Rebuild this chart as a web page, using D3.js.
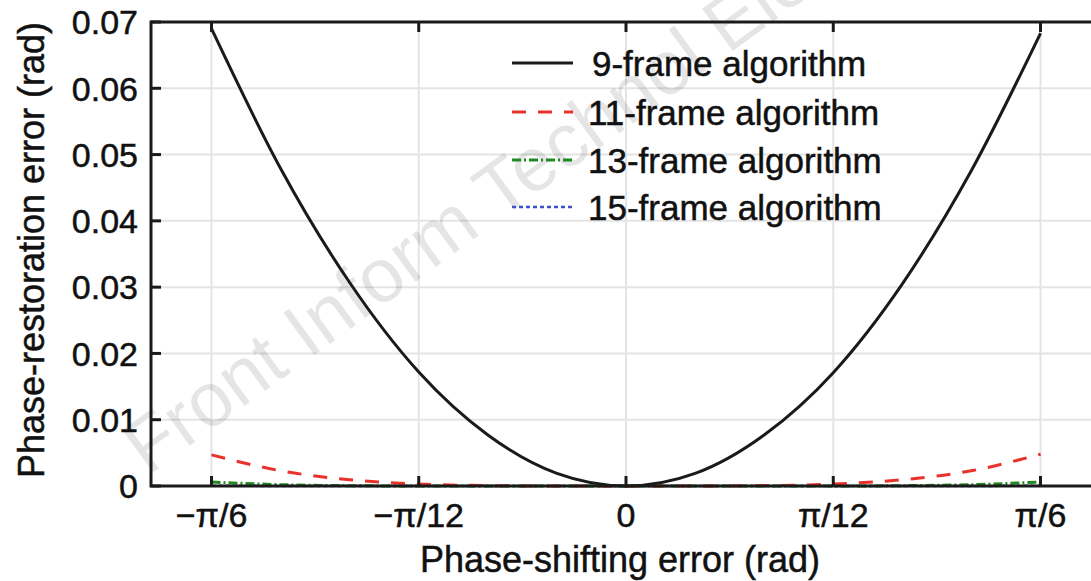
<!DOCTYPE html>
<html>
<head>
<meta charset="utf-8">
<script src="https://cdn.jsdelivr.net/npm/d3@7"></script>
<style>
  body { margin: 0; background: #fff; }
  text { font-family: "Liberation Sans", Arial, sans-serif; fill: #111; }
  .lbl { stroke: #111; stroke-width: 0.5px; }
</style>
</head>
<body>
<script>
var width = 1091,
  height = 581;

// phase-shifting error (rad), sampled every pi/36
var xs = [-0.5236, -0.4363, -0.3491, -0.2618, -0.1745, -0.0873, 0,
  0.0873, 0.1745, 0.2618, 0.3491, 0.4363, 0.5236];

var frame9 = [0.069, 0.0479, 0.0307, 0.0172, 0.0077, 0.0019, 0,
  0.0019, 0.0077, 0.0171, 0.0305, 0.0476, 0.0683];
var frame11 = [0.0047, 0.0023, 0.00095, 0.0003, 0.00006, 0, 0,
  0, 0.00006, 0.0003, 0.00095, 0.0023, 0.0048];
var frame13 = [0.0006, 0.0002, 0.00005, 0, 0, 0, 0,
  0, 0, 0, 0.00005, 0.0002, 0.0006];
var frame15 = [0.00004, 0.00001, 0, 0, 0, 0, 0,
  0, 0, 0, 0, 0.00001, 0.00004];

var seriesNames = ["9-frame algorithm", "11-frame algorithm", "13-frame algorithm", "15-frame algorithm"];

var xTicks = [-Math.PI / 6, -Math.PI / 12, 0, Math.PI / 12, Math.PI / 6];
var xTickLabels = ["\u2212\u03c0/6", "\u2212\u03c0/12", "0", "\u03c0/12", "\u03c0/6"];
var yTicks = [0, 0.01, 0.02, 0.03, 0.04, 0.05, 0.06, 0.07];

var styles = [
  { color: "#1a1a1a", dash: null, w: 3 },
  { color: "#e8322b", dash: "14,12", w: 3 },
  { color: "#1f8a1f", dash: "9,3,2,3", w: 3 },
  { color: "#3a52c8", dash: "4,3", w: 2.5 }
];

var pL = 151, pR = 1101, pT = 22, pB = 486;

var x = d3.scaleLinear().domain([-0.6, 0.6]).range([pL, pR]);
var y = d3.scaleLinear().domain([0, 0.07]).range([pB, pT]);

var svg = d3.select("body").append("svg")
  .attr("width", width)
  .attr("height", height);

// grid
svg.append("g").selectAll("line").data(xTicks).join("line")
  .attr("x1", d => x(d)).attr("x2", d => x(d))
  .attr("y1", pT).attr("y2", pB)
  .attr("stroke", "#e4e4e4").attr("stroke-width", 2);
svg.append("g").selectAll("line").data(yTicks.slice(1, -1)).join("line")
  .attr("x1", pL).attr("x2", pR)
  .attr("y1", d => y(d)).attr("y2", d => y(d))
  .attr("stroke", "#e4e4e4").attr("stroke-width", 2);

// journal watermark (runs off the top edge, as in the original)
svg.append("text")
  .attr("transform", "translate(148,476) rotate(-36)")
  .style("font-size", "76px")
  .style("fill", "#000")
  .style("fill-opacity", 0.1)
  .text("Front Inform Technol Electron Eng");

// curves
var all = [frame9, frame11, frame13, frame15];
var line = d3.line()
  .x((d, i) => x(xs[i]))
  .y(d => y(d))
  .curve(d3.curveMonotoneX);

// small ones first so black sits on top
[3, 2, 1, 0].forEach(function(k) {
  svg.append("path")
    .datum(all[k])
    .attr("d", line)
    .attr("fill", "none")
    .attr("stroke", styles[k].color)
    .attr("stroke-width", styles[k].w)
    .attr("stroke-dasharray", styles[k].dash);
});

// frame
svg.append("rect")
  .attr("x", pL).attr("y", pT)
  .attr("width", pR - pL).attr("height", pB - pT)
  .attr("fill", "none").attr("stroke", "#1a1a1a").attr("stroke-width", 3);

// inward ticks
var tl = 10;
var tk = svg.append("g").attr("stroke", "#1a1a1a").attr("stroke-width", 3);
xTicks.forEach(function(t) {
  tk.append("line").attr("x1", x(t)).attr("x2", x(t)).attr("y1", pB).attr("y2", pB - tl);
  tk.append("line").attr("x1", x(t)).attr("x2", x(t)).attr("y1", pT).attr("y2", pT + tl);
});
yTicks.forEach(function(t) {
  tk.append("line").attr("y1", y(t)).attr("y2", y(t)).attr("x1", pL).attr("x2", pL + tl);
  tk.append("line").attr("y1", y(t)).attr("y2", y(t)).attr("x1", pR).attr("x2", pR - tl);
});

// tick labels
svg.append("g").selectAll("text").data(yTicks).join("text")
  .attr("class", "lbl")
  .attr("x", 138).attr("y", d => y(d))
  .attr("dy", "0.36em")
  .attr("text-anchor", "end")
  .style("font-size", "34px")
  .text(d => d === 0 ? "0" : d3.format(".2f")(d));

svg.append("g").selectAll("text").data(xTicks).join("text")
  .attr("class", "lbl")
  .attr("x", d => x(d)).attr("y", 527)
  .attr("text-anchor", "middle")
  .style("font-size", "34px")
  .text((d, i) => xTickLabels[i]);

// axis titles
svg.append("text")
  .attr("class", "lbl")
  .attr("x", 620).attr("y", 572)
  .attr("text-anchor", "middle")
  .style("font-size", "36px")
  .text("Phase-shifting error (rad)");

svg.append("text")
  .attr("class", "lbl")
  .attr("transform", "translate(44,250) rotate(-90)")
  .attr("text-anchor", "middle")
  .style("font-size", "36px")
  .text("Phase-restoration error (rad)");

// legend
var legY = [63, 112, 160, 207];
var leg = svg.append("g");
seriesNames.forEach(function(name, k) {
  leg.append("line")
    .attr("x1", 512).attr("x2", 573)
    .attr("y1", legY[k]).attr("y2", legY[k])
    .attr("stroke", styles[k].color)
    .attr("stroke-width", styles[k].w)
    .attr("stroke-dasharray", styles[k].dash);
  leg.append("text")
    .attr("class", "lbl")
    .attr("x", k === 0 ? 592 : 588).attr("y", legY[k])
    .attr("dy", "0.36em")
    .style("font-size", "35px")
    .text(name);
});
</script>
</body>
</html>
